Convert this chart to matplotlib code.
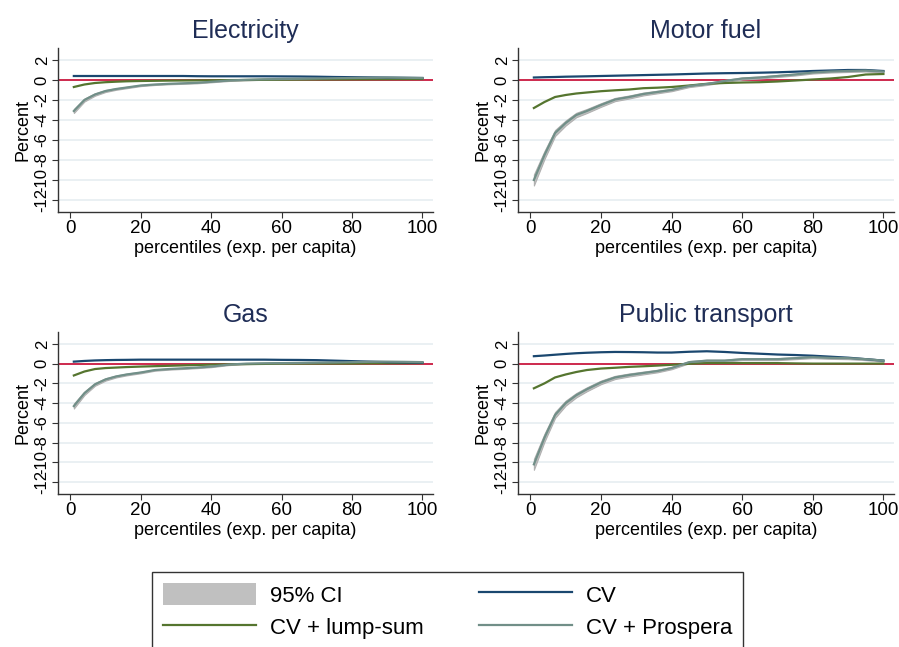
import matplotlib
matplotlib.use("Agg")
import matplotlib.pyplot as plt
from matplotlib.patches import Patch
from matplotlib.lines import Line2D

plt.rcParams['font.family'] = ['Liberation Sans', 'DejaVu Sans']
plt.rcParams['axes.unicode_minus'] = False

pct = [1, 4, 7, 10, 13, 16, 20, 24, 28, 32, 36, 40, 45, 50, 55, 60, 65, 70, 75, 80, 85, 90, 95, 100]

titles = ["Electricity", "Motor fuel", "Gas", "Public transport"]

# CV
cv_elec = [0.4, 0.4, 0.4, 0.4, 0.4, 0.4, 0.4, 0.4, 0.4, 0.4, 0.38, 0.37, 0.37, 0.37, 0.37, 0.36, 0.35, 0.33, 0.3, 0.28, 0.26, 0.24, 0.22, 0.2]
cv_fuel = [0.25, 0.28, 0.3, 0.33, 0.35, 0.37, 0.4, 0.43, 0.46, 0.49, 0.52, 0.55, 0.6, 0.65, 0.68, 0.7, 0.73, 0.77, 0.83, 0.9, 0.95, 1.0, 1.0, 0.9]
cv_gas = [0.2, 0.27, 0.32, 0.35, 0.37, 0.38, 0.4, 0.4, 0.4, 0.4, 0.4, 0.4, 0.4, 0.4, 0.4, 0.38, 0.37, 0.35, 0.3, 0.25, 0.2, 0.15, 0.12, 0.1]
cv_transp = [0.75, 0.82, 0.9, 0.98, 1.05, 1.1, 1.15, 1.18, 1.17, 1.15, 1.12, 1.12, 1.2, 1.25, 1.18, 1.08, 1.0, 0.92, 0.87, 0.8, 0.7, 0.6, 0.45, 0.3]

# CV + lump-sum
ls_elec = [-0.7, -0.45, -0.3, -0.22, -0.17, -0.13, -0.1, -0.08, -0.06, -0.05, -0.04, -0.03, -0.01, 0.0, 0.02, 0.03, 0.04, 0.05, 0.05, 0.06, 0.07, 0.08, 0.09, 0.1]
ls_fuel = [-2.8, -2.2, -1.7, -1.5, -1.35, -1.25, -1.12, -1.03, -0.95, -0.82, -0.77, -0.7, -0.55, -0.38, -0.3, -0.25, -0.22, -0.15, -0.05, 0.05, 0.15, 0.3, 0.55, 0.6]
ls_gas = [-1.2, -0.8, -0.55, -0.45, -0.4, -0.35, -0.3, -0.26, -0.22, -0.18, -0.14, -0.1, -0.07, -0.05, -0.03, 0.0, 0.0, 0.0, 0.0, 0.0, 0.02, 0.03, 0.04, 0.05]
ls_transp = [-2.5, -2.0, -1.4, -1.1, -0.85, -0.65, -0.5, -0.42, -0.33, -0.27, -0.2, -0.12, -0.02, 0.05, 0.05, 0.05, 0.05, 0.05, 0.02, 0.0, 0.0, 0.0, 0.0, 0.0]

# CV + Prospera
pr_elec = [-3.1, -2.0, -1.45, -1.1, -0.9, -0.75, -0.55, -0.45, -0.38, -0.33, -0.28, -0.18, -0.05, 0.02, 0.07, 0.1, 0.12, 0.15, 0.18, 0.2, 0.22, 0.24, 0.22, 0.2]
pr_fuel = [-10.0, -7.5, -5.3, -4.3, -3.5, -3.1, -2.5, -1.95, -1.7, -1.4, -1.2, -1.0, -0.6, -0.4, -0.1, 0.15, 0.25, 0.4, 0.55, 0.75, 0.85, 0.9, 0.95, 0.85]
pr_gas = [-4.3, -3.0, -2.1, -1.6, -1.3, -1.1, -0.9, -0.65, -0.55, -0.48, -0.4, -0.3, -0.1, 0.0, 0.03, 0.05, 0.07, 0.1, 0.12, 0.15, 0.18, 0.2, 0.18, 0.15]
pr_transp = [-10.2, -7.5, -5.2, -4.0, -3.2, -2.6, -1.9, -1.4, -1.15, -0.95, -0.75, -0.45, 0.15, 0.3, 0.3, 0.45, 0.45, 0.45, 0.55, 0.65, 0.58, 0.55, 0.45, 0.3]

# half width of the 95% CI band around CV + Prospera
ci_elec = [0.2, 0.15, 0.12, 0.1, 0.08, 0.07, 0.06, 0.05, 0.05, 0.05, 0.05, 0.05, 0.05, 0.05, 0.05, 0.05, 0.05, 0.05, 0.05, 0.05, 0.05, 0.05, 0.05, 0.05]
ci_fuel = [0.55, 0.4, 0.3, 0.25, 0.22, 0.2, 0.18, 0.16, 0.15, 0.14, 0.13, 0.12, 0.11, 0.1, 0.1, 0.1, 0.1, 0.1, 0.1, 0.1, 0.1, 0.1, 0.1, 0.1]
ci_gas = [0.25, 0.18, 0.14, 0.12, 0.1, 0.09, 0.08, 0.07, 0.06, 0.06, 0.06, 0.06, 0.05, 0.05, 0.05, 0.05, 0.05, 0.05, 0.05, 0.05, 0.05, 0.05, 0.05, 0.05]
ci_transp = [0.55, 0.4, 0.3, 0.25, 0.22, 0.2, 0.18, 0.16, 0.15, 0.14, 0.13, 0.12, 0.11, 0.1, 0.1, 0.1, 0.1, 0.1, 0.1, 0.1, 0.1, 0.1, 0.1, 0.1]

cv_all = [cv_elec, cv_fuel, cv_gas, cv_transp]
ls_all = [ls_elec, ls_fuel, ls_gas, ls_transp]
pr_all = [pr_elec, pr_fuel, pr_gas, pr_transp]
ci_all = [ci_elec, ci_fuel, ci_gas, ci_transp]

c_cv = '#1a476f'
c_ls = '#55752f'
c_pr = '#718f88'
c_ci = '#c0c0c0'
c_zero = '#cc1a40'
c_title = '#1f2d56'
c_grid = '#e6eef1'

W, H = 899, 647
fig = plt.figure(figsize=(W / 100, H / 100), dpi=100)

# axes boxes in pixels: left, top, right, bottom
boxes = [(58, 48, 433, 212), (518, 48, 894, 212),
         (58, 332, 433, 494), (518, 332, 894, 494)]

for i, (l, t, r, b) in enumerate(boxes):
    ax = fig.add_axes([l / W, 1 - b / H, (r - l) / W, (b - t) / H])
    ax.set_xlim(-3.5, 103)
    ax.set_ylim(-13.2, 3.2)
    for y in range(-12, 3, 2):
        ax.axhline(y, color=c_grid, lw=1.2, zorder=0)
    lo = [m - h for m, h in zip(pr_all[i], ci_all[i])]
    hi = [m + h for m, h in zip(pr_all[i], ci_all[i])]
    ax.fill_between(pct, lo, hi, facecolor=c_ci, edgecolor='#b0b0b0', lw=0.8, zorder=2)
    ax.axhline(0, color=c_zero, lw=1.3, zorder=1.5)
    ax.plot(pct, ls_all[i], color=c_ls, lw=1.6, zorder=3)
    ax.plot(pct, cv_all[i], color=c_cv, lw=1.6, zorder=3)
    ax.plot(pct, pr_all[i], color=c_pr, lw=1.6, zorder=4)

    ax.set_xticks(range(0, 101, 20))
    ax.set_yticks(range(-12, 3, 2))
    ax.tick_params(axis='x', labelsize=13.5, length=4, color='#333333', pad=2)
    ax.tick_params(axis='y', labelsize=12, length=4, color='#333333', pad=2)
    for lab in ax.get_yticklabels():
        lab.set_rotation(90)
        lab.set_va('center')
    for s in ['top', 'right']:
        ax.spines[s].set_visible(False)
    for s in ['left', 'bottom']:
        ax.spines[s].set_color('#333333')
        ax.spines[s].set_linewidth(1)
    ax.set_xlabel('percentiles (exp. per capita)', fontsize=13, labelpad=2)
    ax.set_ylabel('Percent', fontsize=13, labelpad=2)
    ax.set_title(titles[i], fontsize=18, color=c_title, pad=7)

handles = [Patch(facecolor=c_ci, edgecolor='none'),
           Line2D([], [], color=c_ls, lw=1.6),
           Line2D([], [], color=c_cv, lw=1.6),
           Line2D([], [], color=c_pr, lw=1.6)]
labels = ['95% CI', 'CV + lump-sum', 'CV', 'CV + Prospera']
leg = fig.legend(handles, labels, ncol=2, loc='upper left',
                 bbox_to_anchor=(152 / W, 1 - 572 / H), fontsize=16,
                 frameon=True, fancybox=False, borderpad=0.5,
                 handlelength=4.2, handleheight=1.15, handletextpad=0.6,
                 columnspacing=2.5, labelspacing=0.4, borderaxespad=0)
leg.get_frame().set_edgecolor('black')
leg.get_frame().set_linewidth(1)

fig.savefig('out.png', dpi=100)
